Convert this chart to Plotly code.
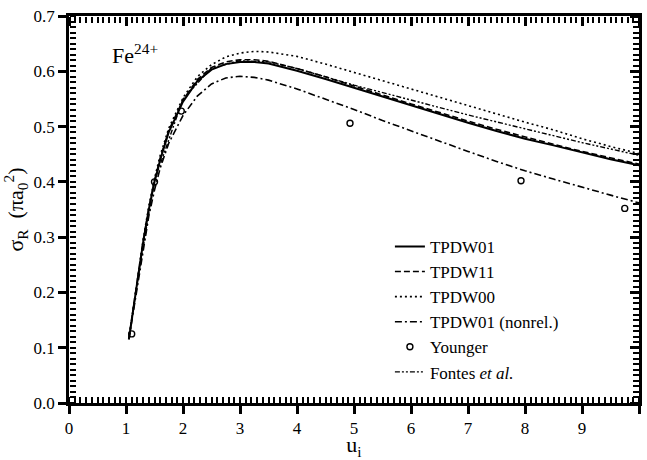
import plotly.graph_objects as go

# Incident energy in threshold units
u = [1.05, 1.2, 1.3, 1.4, 1.5, 1.6, 1.75, 2.0, 2.25, 2.5, 2.75, 3.0, 3.25, 3.5,
     4.0, 4.5, 5.0, 5.5, 6.0, 6.5, 7.0, 7.5, 8.0, 8.5, 9.0, 9.5, 10.0]

# Cross sections (pi a0^2)
tpdw01 = [0.115, 0.22, 0.29, 0.35, 0.40, 0.44, 0.49, 0.545, 0.582, 0.603, 0.613, 0.617, 0.617, 0.614,
          0.601, 0.586, 0.570, 0.554, 0.538, 0.522, 0.507, 0.492, 0.478, 0.466, 0.453, 0.441, 0.430]
tpdw11 = [0.116, 0.222, 0.292, 0.352, 0.402, 0.443, 0.493, 0.548, 0.585, 0.607, 0.617, 0.621, 0.621, 0.618,
          0.605, 0.590, 0.573, 0.557, 0.541, 0.525, 0.510, 0.495, 0.481, 0.468, 0.455, 0.443, 0.432]
tpdw00 = [0.116, 0.225, 0.295, 0.356, 0.406, 0.448, 0.497, 0.552, 0.590, 0.612, 0.626, 0.633, 0.636, 0.635,
          0.627, 0.613, 0.598, 0.583, 0.567, 0.552, 0.537, 0.522, 0.508, 0.494, 0.478, 0.464, 0.451]
tpdw01_nonrel = [0.115, 0.21, 0.28, 0.338, 0.385, 0.425, 0.47, 0.52, 0.555, 0.577, 0.588, 0.591, 0.589, 0.584,
                 0.568, 0.550, 0.531, 0.511, 0.492, 0.473, 0.455, 0.437, 0.420, 0.405, 0.390, 0.376, 0.362]

u_fontes = [1.2, 1.5, 2.0, 2.5, 3.0, 3.5, 4.0, 4.5, 5.0, 6.0, 7.0, 8.0, 9.0, 10.0]
fontes = [0.222, 0.402, 0.55, 0.606, 0.619, 0.617, 0.605, 0.590, 0.575, 0.548, 0.521, 0.496, 0.471, 0.448]

u_younger = [1.1, 1.5, 1.97, 4.93, 7.93, 9.75]
younger = [0.125, 0.400, 0.528, 0.506, 0.402, 0.352]

X_RANGE = [0, 10]
Y_RANGE = [0, 0.7]

FONT = "Liberation Serif"
BLACK = "black"

fig = go.Figure()

fig.add_trace(go.Scatter(x=u, y=tpdw01, mode="lines", name="TPDW01",
                         line=dict(color=BLACK, width=2, dash="solid")))
fig.add_trace(go.Scatter(x=u, y=tpdw11, mode="lines", name="TPDW11",
                         line=dict(color=BLACK, width=1.6, dash="6px,3px")))
fig.add_trace(go.Scatter(x=u, y=tpdw00, mode="lines", name="TPDW00",
                         line=dict(color=BLACK, width=1.6, dash="2px,3px")))
fig.add_trace(go.Scatter(x=u, y=tpdw01_nonrel, mode="lines", name="TPDW01 (nonrel.)",
                         line=dict(color=BLACK, width=1.6, dash="7px,3px,2px,3px")))
fig.add_trace(go.Scatter(x=u_younger, y=younger, mode="markers", name="Younger",
                         marker=dict(symbol="circle-open", size=6, color=BLACK,
                                     line=dict(width=1.4, color=BLACK))))
fig.add_trace(go.Scatter(x=u_fontes, y=fontes, mode="lines", name="Fontes <i>et al.</i>",
                         line=dict(color=BLACK, width=1.4, dash="5px,2px,2px,2px,2px,2px")))


def tick_axis(rng, dtick, side, position, overlay, length, width):
    """Unlabelled free axis whose outward ticks point into the plot frame."""
    return dict(range=rng, dtick=dtick, overlaying=overlay, side=side,
                anchor="free", position=position, showticklabels=False,
                showline=False, showgrid=False, zeroline=False,
                ticks="outside", ticklen=length, tickwidth=width, tickcolor=BLACK)


fig.update_layout(
    width=647, height=460,
    margin=dict(l=69, r=8, t=16, b=57),
    plot_bgcolor="white",
    font=dict(family=FONT, size=17, color=BLACK),
    legend=dict(x=0.563, y=0.45, xanchor="left", yanchor="top",
                bgcolor="rgba(0,0,0,0)", tracegroupgap=0),
    xaxis=dict(range=X_RANGE, dtick=1, showline=True, linewidth=2.5, linecolor=BLACK,
               mirror=True, ticks="outside", ticklen=8, tickwidth=2.5, tickcolor=BLACK,
               showgrid=False, zeroline=False, automargin=False,
               title=dict(text="u<sub>i</sub>", font=dict(size=22), standoff=4)),
    yaxis=dict(range=Y_RANGE, dtick=0.1, tickformat=".1f", showline=True, linewidth=2.5,
               linecolor=BLACK, mirror=True, ticks="outside", ticklen=8, tickwidth=2.5,
               tickcolor=BLACK, showgrid=False, zeroline=False, automargin=False,
               title=dict(text="σ<sub>R</sub>  (πa<sub>0</sub><sup>2</sup>)",
                          font=dict(size=22), standoff=8)),
    # inward minor ticks along the bottom and top edges
    xaxis2=tick_axis(X_RANGE, 0.1, "top", 0, "x", 6, 2),
    xaxis3=tick_axis(X_RANGE, 0.1, "bottom", 1, "x", 6, 2),
    xaxis4=tick_axis(X_RANGE, 1, "bottom", 1, "x", 9, 2.5),
    # inward minor ticks along the left and right edges
    yaxis2=tick_axis(Y_RANGE, 0.01, "right", 0, "y", 6, 2),
    yaxis3=tick_axis(Y_RANGE, 0.01, "left", 1, "y", 6, 2),
    yaxis4=tick_axis(Y_RANGE, 0.1, "left", 1, "y", 9, 2.5),
)

# invisible traces that bind the tick axes into the figure
for xa, ya in [("x2", "y"), ("x3", "y"), ("x4", "y"), ("x", "y2"), ("x", "y3"), ("x", "y4")]:
    fig.add_trace(go.Scatter(x=[X_RANGE[0]], y=[Y_RANGE[0]], xaxis=xa, yaxis=ya, mode="markers",
                             marker=dict(opacity=0), showlegend=False, hoverinfo="skip"))

fig.add_annotation(x=0.72, y=0.632, xref="x", yref="y", xanchor="left", yanchor="middle",
                   text="Fe<sup>24+</sup>", showarrow=False, font=dict(size=22))

fig.write_html("out.html")
